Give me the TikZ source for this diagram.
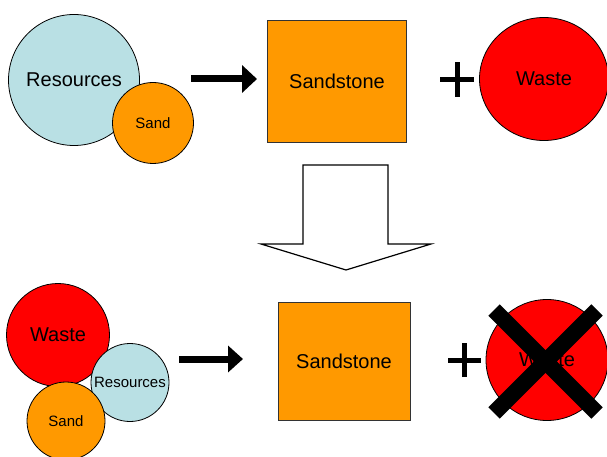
\documentclass[tikz,border=0pt]{standalone}
\usepackage{fontspec}
\setmainfont{Liberation Sans}
\usetikzlibrary{arrows.meta,shapes.geometric}

\definecolor{resblue}{RGB}{185,224,228}
\definecolor{sandorange}{RGB}{255,153,0}
\definecolor{wastered}{RGB}{255,0,0}

\tikzset{
  blob/.style={circle,draw=black,line width=0.8pt,inner sep=0pt},
  bigtxt/.style={font=\fontsize{20}{24}\selectfont},
  smalltxt/.style={font=\fontsize{15}{18}\selectfont},
  resource/.style={blob,fill=resblue},
  sand/.style={blob,fill=sandorange},
  waste/.style={ellipse,draw=black,line width=0.8pt,fill=wastered,inner sep=0pt},
  stonebox/.style={rectangle,draw=black!80,line width=0.9pt,fill=sandorange,inner sep=0pt,bigtxt},
  fatarrow/.style={line width=7pt,-{Triangle[length=15pt,width=27pt]}},
  plussign/.style={line width=5pt},
  crossbar/.style={line width=16pt,line cap=butt},
  hollowarrow/.style={draw=black,line width=1.2pt,fill=white,line join=miter}
}

\begin{document}
\begin{tikzpicture}[x=1pt,y=-1pt]
\useasboundingbox (0,0) rectangle (607,457);

% ---- top row: resources + sand -> sandstone + waste
\node[resource,minimum size=131pt,bigtxt] (res1) at (74,80) {Resources};
\node[sand,minimum size=81pt,smalltxt] (sand1) at (153,123) {Sand};
\coordinate (a1s) at (191,79);
\coordinate (a1e) at (257,79);
\draw[fatarrow] (a1s) -- (a1e);
\node[stonebox,minimum width=139pt,minimum height=122pt] (stone1) at (337,81) {Sandstone};
\coordinate (p1c) at (457,79.5);
\draw[plussign] ([xshift=-17pt]p1c) -- ([xshift=17pt]p1c);
\draw[plussign] ([yshift=-17.5pt]p1c) -- ([yshift=17.5pt]p1c);
\node[waste,minimum width=129pt,minimum height=123pt,bigtxt] (waste1) at (544,79) {Waste};

% ---- hollow down arrow between the rows
\draw[hollowarrow] (303,165) -- (388,165) -- (388,244) -- (431,244) -- (346,270)
  -- (261,244) -- (303,244) -- cycle;

% ---- bottom row: waste + resources + sand -> sandstone (+ no waste)
\node[blob,fill=wastered,minimum size=103pt,bigtxt] (waste2) at (58,335) {Waste};
\node[resource,minimum size=78pt,smalltxt] (res2) at (130,382.5) {Resources};
\node[sand,minimum size=78pt,smalltxt] (sand2) at (66,421) {Sand};
\coordinate (a2s) at (179,359);
\coordinate (a2e) at (243,359);
\draw[line width=7pt,-{Triangle[length=15pt,width=26pt]}] (a2s) -- (a2e);
\node[stonebox,minimum width=132pt,minimum height=118pt] (stone2) at (344,361) {Sandstone};
\coordinate (p2c) at (464.5,360);
\draw[plussign] ([xshift=-16.5pt]p2c) -- ([xshift=16.5pt]p2c);
\draw[plussign] ([yshift=-17pt]p2c) -- ([yshift=17pt]p2c);
\node[waste,minimum width=122pt,minimum height=121pt,bigtxt] (waste3) at (547,360) {Waste};
\coordinate (x1) at (494,310);
\coordinate (x2) at (597,413);
\coordinate (x3) at (597,310);
\coordinate (x4) at (494,413);
\draw[crossbar] (x1) -- (x2);
\draw[crossbar] (x3) -- (x4);
\end{tikzpicture}
\end{document}
